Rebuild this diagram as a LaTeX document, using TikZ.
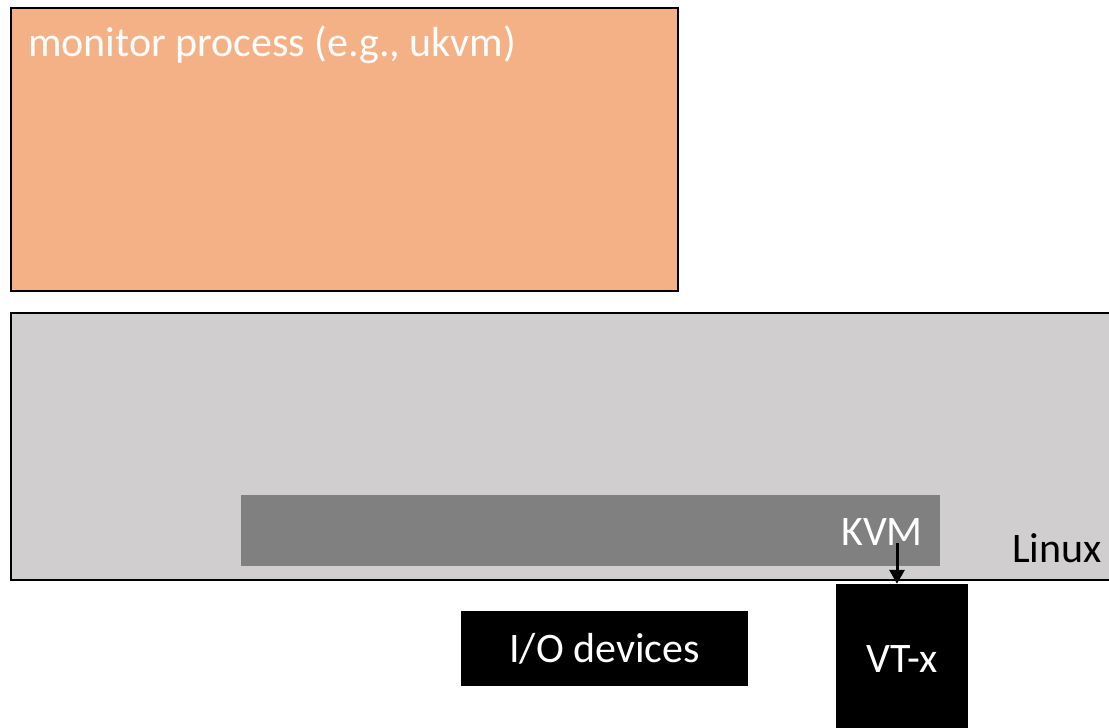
\documentclass[tikz,border=0pt]{standalone}
\usepackage{fontspec}
\setmainfont{Carlito}
\usetikzlibrary{arrows.meta}
\definecolor{monfill}{HTML}{F3B185}
\definecolor{linfill}{HTML}{D0CECF}
\definecolor{kvmfill}{HTML}{808080}
\tikzset{
  box/.style={draw=black, line width=2pt, inner sep=0pt, anchor=center},
  blackbox/.style={fill=black, inner sep=0pt, text=white, font=\fontsize{42}{48}\selectfont},
  lbl/.style={inner sep=0pt, font=\fontsize{42}{48}\selectfont},
}
\begin{document}
\begin{tikzpicture}[x=1pt,y=-1pt]
\useasboundingbox (0,0) rectangle (1109,728);
\clip (0,0) rectangle (1109,728);
\node[box, fill=monfill, minimum width=667pt, minimum height=283pt] (mon) at (344.5,149.5) {};
\node[lbl, text=white, anchor=base west] (montext) at (28,56) {monitor process (e.g., ukvm)};
\node[box, fill=linfill, minimum width=1112pt, minimum height=267pt] (linux) at (567,446.5) {};
\node[inner sep=0pt, fill=kvmfill, minimum width=699pt, minimum height=71pt] (kvm) at (590.5,530.5) {};
\node[lbl, text=white, anchor=base] (kvmtext) at (882,545) {KVM};
\node[lbl, text=black, anchor=base west] (linuxtext) at (1012,562) {Linux};
\node[blackbox, minimum width=132pt, minimum height=146pt] (vtx) at (902,657) {};
\node[lbl, text=white, anchor=base] (vtxtext) at (902,672) {VT-x};
\node[blackbox, minimum width=287pt, minimum height=75pt] (io) at (604.5,648.5) {I/O devices};
\coordinate (a) at (897,543);
\draw[line width=3pt, -{Triangle[length=14pt,width=15pt]}] (a) -- (a |- vtx.north);
\end{tikzpicture}
\end{document}
